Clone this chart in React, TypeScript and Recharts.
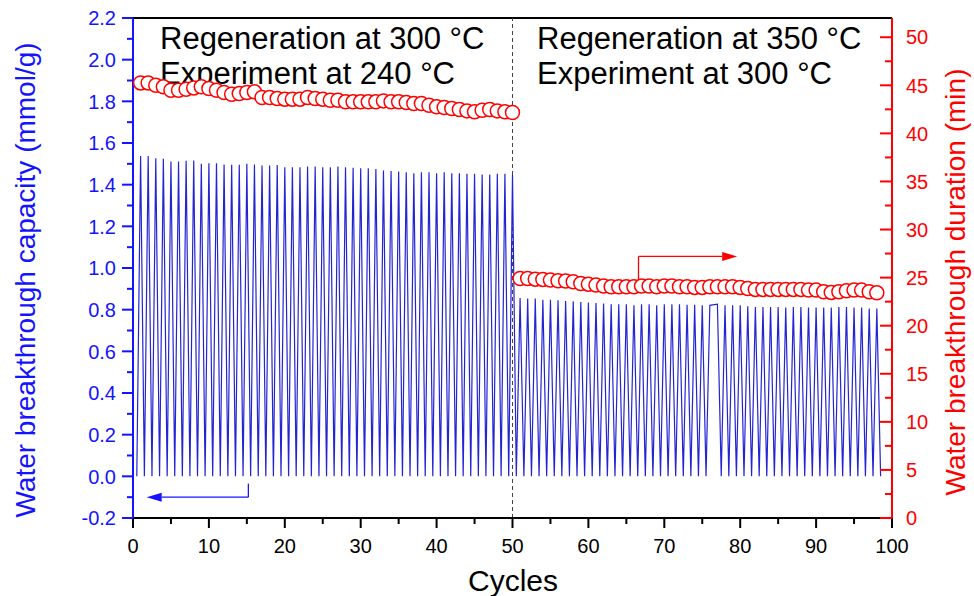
import { ComposedChart, Line, XAxis, YAxis, ReferenceLine } from 'recharts';

// water breakthrough capacity (mmol/g), peak of each cycle
const capacity300 = [
  1.537, 1.537, 1.527, 1.524, 1.511, 1.511, 1.515, 1.516, 1.5, 1.503,
  1.503, 1.497, 1.495, 1.495, 1.5, 1.497, 1.492, 1.492, 1.494, 1.484,
  1.484, 1.484, 1.487, 1.487, 1.484, 1.484, 1.487, 1.484, 1.481, 1.479,
  1.479, 1.475, 1.468, 1.465, 1.463, 1.459, 1.455, 1.459, 1.459, 1.455,
  1.459, 1.455, 1.455, 1.452, 1.452, 1.449, 1.449, 1.452, 1.452, 1.447,
];
const capacity350 = [
  0.856, 0.853, 0.853, 0.848, 0.848, 0.845, 0.842, 0.84, 0.837, 0.834,
  0.832, 0.829, 0.826, 0.826, 0.826, 0.821, 0.826, 0.826, 0.821, 0.826,
  0.826, 0.826, 0.824, 0.824, 0.821, 0.821, 0.826, 0.821, 0.821, 0.821,
  0.816, 0.813, 0.813, 0.813, 0.813, 0.81, 0.813, 0.813, 0.81, 0.81,
  0.81, 0.81, 0.813, 0.813, 0.81, 0.81, 0.805, 0.805,
];

// water breakthrough duration (min)
const duration300 = [
  45.25, 45.25, 45.01, 44.84, 44.49, 44.49, 44.59, 44.73, 44.84, 44.66,
  44.49, 44.25, 44.07, 44.14, 44.25, 44.32, 43.73, 43.73, 43.62, 43.56,
  43.56, 43.56, 43.73, 43.62, 43.56, 43.45, 43.45, 43.28, 43.28, 43.28,
  43.28, 43.28, 43.38, 43.28, 43.28, 43.21, 43.11, 43.11, 42.93, 42.76,
  42.69, 42.59, 42.48, 42.34, 42.24, 42.41, 42.48, 42.34, 42.24, 42.17,
];
const duration350 = [
  24.91, 24.91, 24.84, 24.81, 24.74, 24.67, 24.64, 24.57, 24.39, 24.32,
  24.22, 24.12, 24.05, 24.05, 24.05, 24.05, 24.12, 24.12, 24.05, 24.12,
  24.12, 24.05, 24.05, 23.98, 23.98, 24.05, 24.05, 24.05, 24.05, 23.98,
  23.87, 23.77, 23.77, 23.77, 23.77, 23.77, 23.77, 23.77, 23.7, 23.7,
  23.53, 23.46, 23.53, 23.63, 23.7, 23.7, 23.53, 23.42,
];

const firstCycle300 = 1;
const firstCycle350 = 51;
// cycle after which the capacity trace does not drop back to zero
const noResetAfter = [76];

const xMajor = [0, 10, 20, 30, 40, 50, 60, 70, 80, 90, 100];
const xMinor = [5, 15, 25, 35, 45, 55, 65, 75, 85, 95];
const leftMajor = [-0.2, 0, 0.2, 0.4, 0.6, 0.8, 1.0, 1.2, 1.4, 1.6, 1.8, 2.0, 2.2];
const leftMinor = [-0.1, 0.1, 0.3, 0.5, 0.7, 0.9, 1.1, 1.3, 1.5, 1.7, 1.9, 2.1];
const rightMajor = [0, 5, 10, 15, 20, 25, 30, 35, 40, 45, 50];
const rightMinor = [2.5, 7.5, 12.5, 17.5, 22.5, 27.5, 32.5, 37.5, 42.5, 47.5];

const BLUE = '#1414ff';
const TRACE = '#2424d4';
const RED = '#ff0000';
const FONT = '"Liberation Sans", Arial, Helvetica, sans-serif';

const cycles = (start: number, n: number) => Array.from({ length: n }, (_, i) => start + i);

const capacityRows: { x: number; cap: number }[] = [];
[
  [firstCycle300, capacity300],
  [firstCycle350, capacity350],
].forEach(([start, vals]) => {
  cycles(start as number, (vals as number[]).length).forEach((c, i) => {
    if (c === firstCycle300) capacityRows.push({ x: c - 0.5, cap: 0 });
    capacityRows.push({ x: c, cap: (vals as number[])[i] });
    if (!noResetAfter.includes(c)) capacityRows.push({ x: c + 0.5, cap: 0 });
  });
});

const durationRows = [
  ...cycles(firstCycle300, duration300.length).map((c, i) => ({ x: c, dur: duration300[i] })),
  ...cycles(firstCycle350, duration350.length).map((c, i) => ({ x: c, dur: duration350[i] })),
];

const LeftTick = (props: any) => {
  const { x, y, payload } = props;
  const major = leftMajor.includes(payload.value);
  return (
    <g>
      <line x1={x} x2={x - (major ? 11 : 6)} y1={y} y2={y} stroke={BLUE} strokeWidth={2} />
      {major && (
        <text x={x - 17} y={y} dy="0.36em" textAnchor="end" fill={BLUE} fontSize={20} fontFamily={FONT}>
          {payload.value.toFixed(1)}
        </text>
      )}
    </g>
  );
};

const RightTick = (props: any) => {
  const { x, y, payload } = props;
  const major = rightMajor.includes(payload.value);
  return (
    <g>
      <line x1={x} x2={x - (major ? 12 : 7)} y1={y} y2={y} stroke={RED} strokeWidth={2} />
      {major && (
        <text x={x + 14} y={y} dy="0.36em" textAnchor="start" fill={RED} fontSize={20} fontFamily={FONT}>
          {payload.value}
        </text>
      )}
    </g>
  );
};

const BottomTick = (props: any) => {
  const { x, y, payload } = props;
  const major = xMajor.includes(payload.value);
  return (
    <g>
      <line x1={x} x2={x} y1={y} y2={y + (major ? 10 : 6)} stroke="#000" strokeWidth={2} />
      {major && (
        <text x={x} y={y + 28} dy="0.36em" textAnchor="middle" fill="#000" fontSize={20} fontFamily={FONT}>
          {payload.value}
        </text>
      )}
    </g>
  );
};

const arrow = (color: string) => (p: any) => {
  const { x1, y1, x2, y2 } = p;
  const len = Math.hypot(x2 - x1, y2 - y1) || 1;
  const ux = (x2 - x1) / len;
  const uy = (y2 - y1) / len;
  const bx = x2 - ux * 15;
  const by = y2 - uy * 15;
  return (
    <g>
      <line x1={x1} y1={y1} x2={bx} y2={by} stroke={color} strokeWidth={1.3} />
      <polygon
        points={`${x2},${y2} ${bx - uy * 4.5},${by + ux * 4.5} ${bx + uy * 4.5},${by - ux * 4.5}`}
        fill={color}
      />
    </g>
  );
};

const annotation = { fontSize: 31, fontFamily: FONT, fill: '#000' };

export default function App() {
  return (
    <div style={{ width: 974, height: 596 }}>
      <style>{'body{margin:0}'}</style>
      <ComposedChart width={974} height={596} margin={{ top: 18, right: 0, bottom: 0, left: 0 }}>
        <XAxis
          type="number"
          dataKey="x"
          domain={[0, 100]}
          ticks={[...xMajor, ...xMinor].sort((a, b) => a - b)}
          interval={0}
          height={78}
          tickSize={0}
          tickMargin={0}
          tickLine={false}
          axisLine={{ stroke: '#000', strokeWidth: 2 }}
          tick={<BottomTick />}
        />
        <YAxis
          yAxisId="left"
          domain={[-0.2, 2.2]}
          ticks={[...leftMajor, ...leftMinor].sort((a, b) => a - b)}
          interval={0}
          width={133}
          tickSize={0}
          tickMargin={0}
          tickLine={false}
          axisLine={{ stroke: BLUE, strokeWidth: 2 }}
          tick={<LeftTick />}
        />
        <YAxis
          yAxisId="right"
          orientation="right"
          domain={[0, 52]}
          ticks={[...rightMajor, ...rightMinor].sort((a, b) => a - b)}
          interval={0}
          width={82}
          tickSize={0}
          tickMargin={0}
          tickLine={false}
          axisLine={{ stroke: RED, strokeWidth: 2 }}
          tick={<RightTick />}
        />
        <ReferenceLine yAxisId="left" y={2.2} stroke="#000" strokeWidth={2} />
        <ReferenceLine yAxisId="left" x={50} stroke="#444" strokeDasharray="4 3" strokeWidth={1} />

        <Line
          yAxisId="left"
          data={capacityRows}
          dataKey="cap"
          type="linear"
          stroke={TRACE}
          strokeWidth={1.2}
          dot={false}
          activeDot={false}
          isAnimationActive={false}
        />
        <Line
          yAxisId="right"
          data={durationRows}
          dataKey="dur"
          type="linear"
          stroke="none"
          dot={{ r: 7, fill: '#fff', stroke: RED, strokeWidth: 1.5 }}
          activeDot={false}
          isAnimationActive={false}
        />

        <ReferenceLine yAxisId="left" segment={[{ x: 15.2, y: -0.035 }, { x: 15.2, y: -0.1 }]} stroke={BLUE} strokeWidth={1.3} />
        <ReferenceLine yAxisId="left" segment={[{ x: 15.2, y: -0.1 }, { x: 1.8, y: -0.1 }]} shape={arrow(BLUE)} />
        <ReferenceLine yAxisId="right" segment={[{ x: 66.6, y: 24.6 }, { x: 66.6, y: 27.2 }]} stroke={RED} strokeWidth={1.3} />
        <ReferenceLine yAxisId="right" segment={[{ x: 66.6, y: 27.2 }, { x: 79.6, y: 27.2 }]} shape={arrow(RED)} />

        <text x={160} y={49} {...annotation}>Regeneration at 300 °C</text>
        <text x={160} y={84} {...annotation}>Experiment at 240 °C</text>
        <text x={537} y={49} {...annotation}>Regeneration at 350 °C</text>
        <text x={537} y={84} {...annotation}>Experiment at 300 °C</text>

        <text x={25} y={280} transform="rotate(-90 25 280)" dy="0.36em" textAnchor="middle" fill={BLUE} fontSize={28} fontFamily={FONT}>
          Water breakthrough capacity (mmol/g)
        </text>
        <text x={955} y={282} transform="rotate(-90 955 282)" dy="0.36em" textAnchor="middle" fill={RED} fontSize={28} fontFamily={FONT}>
          Water breakthrough duration (min)
        </text>
        <text x={513} y={580} dy="0.36em" textAnchor="middle" fill="#000" fontSize={30} fontFamily={FONT}>
          Cycles
        </text>
      </ComposedChart>
    </div>
  );
}
